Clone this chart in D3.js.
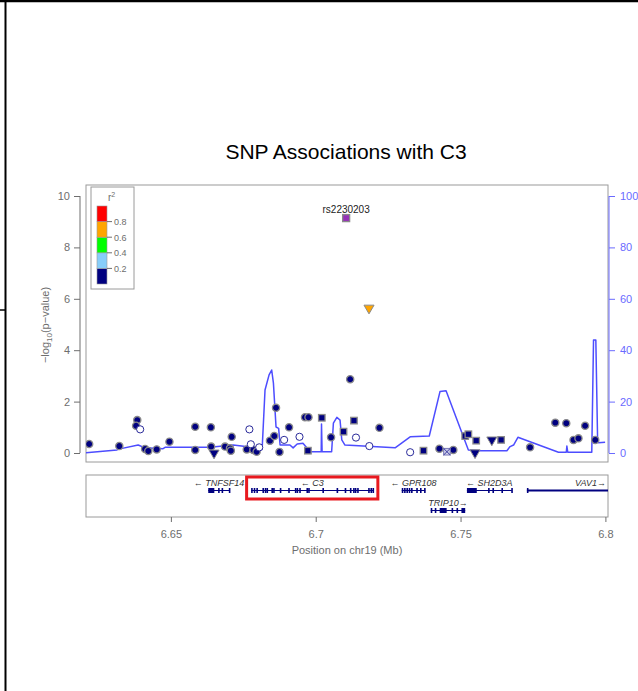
<!DOCTYPE html>
<html><head><meta charset="utf-8">
<script src="https://cdn.jsdelivr.net/npm/d3@7"></script>
<style>body{margin:0;background:#fff}svg{display:block}text{font-family:"Liberation Sans",Arial,sans-serif}</style>
</head><body>
<script>
// ---------- data ----------
const xTicks = [6.65, 6.7, 6.75, 6.8];
const yTicks = [0, 2, 4, 6, 8, 10];
const rTicks = [0, 20, 40, 60, 80, 100];
const legendBreaks = [0.2, 0.4, 0.6, 0.8];
const legendColors = ["#000080", "#87CEFA", "#00FF00", "#FFA500", "#FF0000"];

// SNPs: position (Mb), -log10 p, shape, r2 class
const snpPos = [6.6218,6.6322,6.6384,6.6380,6.6411,6.6422,6.6451,6.6495,6.6584,6.6584,6.6638,6.6639,6.6710,6.6687,6.6704,6.6707,6.6762,6.6785,6.6796,6.6842,6.6857,6.6863,6.6875,6.6908,6.6963,6.6975,6.7053,6.7119,6.7220,6.7427,6.7475,6.7740,6.7827,6.7865,6.7930,6.7890,6.7907,6.7965,
  6.6394,6.6771,6.6776,6.6805,6.6891,6.6944,6.7139,6.7185,6.7326,
  6.6973,6.7021,6.7132,6.7096,6.7372,6.7516,6.7527,6.7554,6.7640,
  6.6649,6.7550,6.7608,6.7184,
  6.7453,
  6.7105];
const snpLogP = [0.35,0.27,1.28,1.06,0.16,0.08,0.14,0.44,1.02,0.12,1.00,0.25,0.63,0.25,0.18,0.09,0.14,0.12,0.05,0.48,0.66,1.76,0.04,1.00,1.39,1.39,0.61,2.87,0.98,0.17,0.12,0.22,1.18,1.16,1.06,0.51,0.57,0.51,
  0.92,0.92,0.34,0.22,0.51,0.63,0.60,0.27,0.03,
  0.09,1.37,1.26,0.83,0.09,0.66,0.73,0.48,0.51,
  0.00,0.01,0.51,5.64,
  0.05,
  9.14];
const snpShape = [].concat(Array(38).fill("circle"), Array(9).fill("open"), Array(9).fill("square"), Array(4).fill("triangle"), ["xsquare"], ["square"]);
const snpR2 = [].concat(Array(56).fill(0.1), [0.1, 0.1, 0.1, 0.7], [0.1], ["lead"]);
const leadName = "rs2230203";

// recombination rate (cM/Mb)
const recombPos = [6.6207,6.6314,6.6324,6.6387,6.6411,6.6473,6.6480,6.6635,6.6715,6.6773,6.6815,6.6825,6.6839,6.6848,6.6854,6.6863,6.6872,6.6877,6.6911,6.6922,6.6936,6.6956,6.6967,6.6980,6.7019,6.7020,6.7022,6.7055,6.7061,6.7073,6.7084,6.7090,6.7101,6.7274,6.7326,6.7392,6.7429,6.7450,6.7527,6.7568,6.7660,6.7671,6.7683,6.7698,6.7838,6.7865,6.7867,6.7870,6.7953,6.7959,6.7967,6.7973,6.7976,6.7999];
const recombRate = [0.1,1.2,1.6,3.1,2.0,1.7,2.2,2.2,3.1,2.3,1.4,24.5,30.4,32.3,27.2,10.1,9.6,3.1,3.1,2.0,3.5,3.8,2.3,0.5,0.5,11.3,0.5,0.5,11.6,13.9,12.8,5.1,3.1,2.0,6.3,6.6,23.9,24.2,1.2,0.9,0.9,2.5,3.1,6.1,0.3,0.3,2.7,0.3,0.3,44.0,44.0,5.7,4.0,4.2];

// genes
const geneNames = ["TNFSF14", "C3", "GPR108", "TRIP10", "SH2D3A", "VAV1"];
const geneStart = [6.6629, 6.6777, 6.7297, 6.7397, 6.7522, 6.7729];
const geneEnd   = [6.6704, 6.7199, 6.7378, 6.7516, 6.7677, 6.8570];
const geneStrand = ["-", "-", "-", "+", "-", "+"];
const geneRow = [0, 0, 0, 1, 0, 0];
const geneExons = [
  [[6.6629,6.6650],[6.6663,6.6666],[6.6675,6.6678],[6.6700,6.6704]],
  [[6.6777,6.6780],[6.6786,6.6788],[6.6795,6.6797],[6.6816,6.6818],[6.6824,6.6826],[6.6830,6.6832],[6.6847,6.6849],[6.6853,6.6855],[6.6876,6.6878],[6.6905,6.6907],[6.6928,6.6930],[6.6934,6.6936],[6.6943,6.6945],[6.6968,6.6970],[6.6974,6.6976],[6.7023,6.7025],[6.7072,6.7074],[6.7100,6.7102],[6.7118,6.7120],[6.7129,6.7131],[6.7135,6.7137],[6.7143,6.7145],[6.7181,6.7183],[6.7189,6.7191],[6.7196,6.7199]],
  [[6.7297,6.7302],[6.7305,6.7310],[6.7313,6.7318],[6.7321,6.7326],[6.7329,6.7334],[6.7347,6.7350],[6.7360,6.7363],[6.7374,6.7378]],
  [[6.7397,6.7400],[6.7411,6.7413],[6.7428,6.7452],[6.7469,6.7471],[6.7486,6.7488],[6.7503,6.7516]],
  [[6.7522,6.7556],[6.7595,6.7597],[6.7610,6.7612],[6.7641,6.7643],[6.7675,6.7677]],
  [[6.7729,6.7733]]
];
const highlightGene = "C3";

// ---------- drawing ----------
const W = 638, H = 691;
const svg = d3.select("body").append("svg").attr("width", W).attr("height", H);
const L = 86, R = 608, T = 185, B = 462;
const x = d3.scaleLinear().domain([6.6207, 6.8009]).range([L, R]);
const y = d3.scaleLinear().domain([0, 10]).range([453, 196]);
const yr = d3.scaleLinear().domain([0, 100]).range([453, 196]);
const grey = "#6e6e6e";

// outer frame fragments
svg.append("line").attr("x1",0).attr("x2",W).attr("y1",1).attr("y2",1).attr("stroke","#000").attr("stroke-width",2.5);
svg.append("line").attr("x1",5.5).attr("x2",5.5).attr("y1",0).attr("y2",H).attr("stroke","#000").attr("stroke-width",2);
svg.append("line").attr("x1",0).attr("x2",6).attr("y1",310).attr("y2",310).attr("stroke","#000").attr("stroke-width",1.5);

// title
svg.append("text").attr("x", 346).attr("y", 159).attr("text-anchor","middle").attr("font-size",21).attr("fill","#000").text("SNP Associations with C3");

// plot box
svg.append("rect").attr("x",L).attr("y",T).attr("width",R-L).attr("height",B-T).attr("fill","none").attr("stroke","#9a9a9a").attr("stroke-width",1);

// clip
svg.append("clipPath").attr("id","pc").append("rect").attr("x",L).attr("y",T).attr("width",R-L).attr("height",B-T);
svg.append("clipPath").attr("id","gc").append("rect").attr("x",L).attr("y",475).attr("width",R-L).attr("height",42);

// left axis
const ga = svg.append("g").attr("transform","translate(80,0)")
  .call(d3.axisLeft(y).tickValues(yTicks).tickSize(6).tickPadding(4).tickFormat(d3.format("d")));
ga.select(".domain").attr("stroke",grey).attr("d", `M-0,${y(0)}V${y(10)}`);
ga.selectAll(".tick line").attr("stroke",grey);
ga.selectAll(".tick text").attr("fill",grey).attr("font-size",11).attr("font-family","Liberation Sans, Arial");

// right axis
const blue = "#6a6aff";
const gr = svg.append("g").attr("transform","translate(609,0)")
  .call(d3.axisRight(yr).tickValues(rTicks).tickSize(6).tickPadding(5).tickFormat(d3.format("d")));
gr.select(".domain").attr("stroke",blue).attr("d", `M0,${yr(0)}V${yr(100)}`);
gr.selectAll(".tick line").attr("stroke",blue);
gr.selectAll(".tick text").attr("fill",blue).attr("font-size",11).attr("font-family","Liberation Sans, Arial");

// y label
const yl = svg.append("text").attr("transform","translate(49,325) rotate(-90)").attr("text-anchor","middle").attr("font-size",11).attr("fill",grey);
yl.append("tspan").text("\u2212log");
yl.append("tspan").attr("font-size",8).attr("dy",3).text("10");
yl.append("tspan").attr("dy",-3).text("(p\u2212value)");

// recombination line
const line = d3.line().x((d,i)=>x(recombPos[i])).y((d,i)=>yr(recombRate[i]));
svg.append("path").datum(recombRate).attr("clip-path","url(#pc)").attr("d", line)
  .attr("fill","none").attr("stroke","#4d4dff").attr("stroke-width",1.5).attr("stroke-linejoin","round");

// legend
const lg = svg.append("g");
lg.append("rect").attr("x",91).attr("y",187).attr("width",43).attr("height",102).attr("fill","#fff").attr("stroke","#9a9a9a");
const ly = d3.scaleLinear().domain([0,1]).range([284,206]);
const bounds = [0,0.2,0.4,0.6,0.8,1.0];
legendColors.forEach((c,i)=>{
  lg.append("rect").attr("x",97).attr("width",10).attr("y",ly(bounds[i+1])).attr("height",ly(bounds[i])-ly(bounds[i+1]))
    .attr("fill",c).attr("stroke","#999").attr("stroke-width",0.6);
});
legendBreaks.forEach(b=>{
  lg.append("line").attr("x1",107).attr("x2",112).attr("y1",ly(b)).attr("y2",ly(b)).attr("stroke",grey);
  lg.append("text").attr("x",114).attr("y",ly(b)+3.5).attr("font-size",9).attr("fill",grey).text(b.toFixed(1));
});
const rt = lg.append("text").attr("x",108).attr("y",201).attr("font-size",10).attr("fill",grey);
rt.append("tspan").text("r");
rt.append("tspan").attr("dy",-4).attr("font-size",7).text("2");

// SNPs
function colorOf(r){ if(r==="lead") return "#9632B8"; return legendColors[Math.min(4, Math.floor(r/0.2))]; }
const pts = svg.append("g").attr("clip-path","url(#pc)");
const idx = d3.range(snpPos.length);
idx.sort((a,b)=> (snpR2[a]===0.1?0:1) - (snpR2[b]===0.1?0:1));
idx.forEach(i=>{
  const cx = x(snpPos[i]), cy = y(snpLogP[i]), sh = snpShape[i], col = colorOf(snpR2[i]);
  const g = pts.append("g").attr("transform",`translate(${cx},${cy})`);
  if (sh==="circle") {
    g.append("circle").attr("r",3.6).attr("fill",col).attr("stroke","#8a8a8a").attr("stroke-width",1.3);
  } else if (sh==="open") {
    g.append("circle").attr("r",3.6).attr("fill","#fff").attr("stroke","#2a2a9a").attr("stroke-width",1);
  } else if (sh==="square") {
    const s = snpR2[i]==="lead" ? 7 : 6.5;
    g.append("rect").attr("x",-s/2).attr("y",-s/2).attr("width",s).attr("height",s).attr("fill",col).attr("stroke","#8a8a8a").attr("stroke-width",1.3);
  } else if (sh==="triangle") {
    g.append("path").attr("d",d3.symbol(d3.symbolTriangle, 44)()).attr("transform","rotate(180)")
      .attr("fill",col).attr("stroke","#8a8a8a").attr("stroke-width",1);
  } else if (sh==="xsquare") {
    g.append("rect").attr("x",-3.3).attr("y",-3.3).attr("width",6.6).attr("height",6.6).attr("fill","#cfd0ea").attr("stroke","#7a7ab8").attr("stroke-width",1);
    g.append("path").attr("d","M-3.3,-3.3L3.3,3.3M-3.3,3.3L3.3,-3.3").attr("stroke","#3a3aa0").attr("stroke-width",1);
  }
  if (snpR2[i]==="lead") {
    svg.append("text").attr("x",cx).attr("y",cy-5).attr("text-anchor","middle").attr("font-size",10).attr("fill","#222").text(leadName);
  }
});

// gene panel
svg.append("rect").attr("x",L).attr("y",475).attr("width",R-L).attr("height",42).attr("fill","#fff").attr("stroke","#9a9a9a");
const gg = svg.append("g").attr("clip-path","url(#gc)");
const rowGeneY = [490.5, 510.5], rowLabelY = [485.5, 505.5];
geneNames.forEach((n,i)=>{
  const gy = rowGeneY[geneRow[i]];
  gg.append("line").attr("x1",x(geneStart[i])).attr("x2",Math.min(x(geneEnd[i]),R)).attr("y1",gy).attr("y2",gy)
    .attr("stroke","#000080").attr("stroke-width", n==="VAV1"?1.8:1);
  geneExons[i].forEach(e=>{
    gg.append("rect").attr("x",x(e[0])).attr("y",gy-2.5).attr("width",Math.max(1.6,x(e[1])-x(e[0]))).attr("height",5).attr("fill","#000080");
  });
  const vis0 = Math.max(x(geneStart[i]),L), vis1 = Math.min(x(geneEnd[i]),R);
  const lbl = geneStrand[i]==="-" ? "\u2190 " + n : n + "\u2192";
  const t = gg.append("text").attr("y",rowLabelY[geneRow[i]]).attr("font-size",9).attr("font-style","italic").attr("fill","#333").text(lbl);
  if (x(geneEnd[i]) > R) t.attr("x",R-2).attr("text-anchor","end");
  else t.attr("x",(vis0+vis1)/2).attr("text-anchor","middle");
});
// highlight box
const hi = geneNames.indexOf(highlightGene);
svg.append("rect").attr("x",x(geneStart[hi])-4.5).attr("y",477).attr("width",x(geneEnd[hi])-x(geneStart[hi])+9).attr("height",22)
  .attr("fill","none").attr("stroke","#e8191f").attr("stroke-width",3);

// x axis
const gx = svg.append("g").attr("transform","translate(0,517)")
  .call(d3.axisBottom(x).tickValues(xTicks).tickSize(5).tickPadding(8).tickFormat(d=>String(d)));
gx.select(".domain").remove();
gx.selectAll(".tick line").attr("stroke",grey);
gx.selectAll(".tick text").attr("fill",grey).attr("font-size",11).attr("font-family","Liberation Sans, Arial");
svg.append("text").attr("x",347).attr("y",554).attr("text-anchor","middle").attr("font-size",11).attr("fill",grey).text("Position on chr19 (Mb)");
</script>
</body></html>
